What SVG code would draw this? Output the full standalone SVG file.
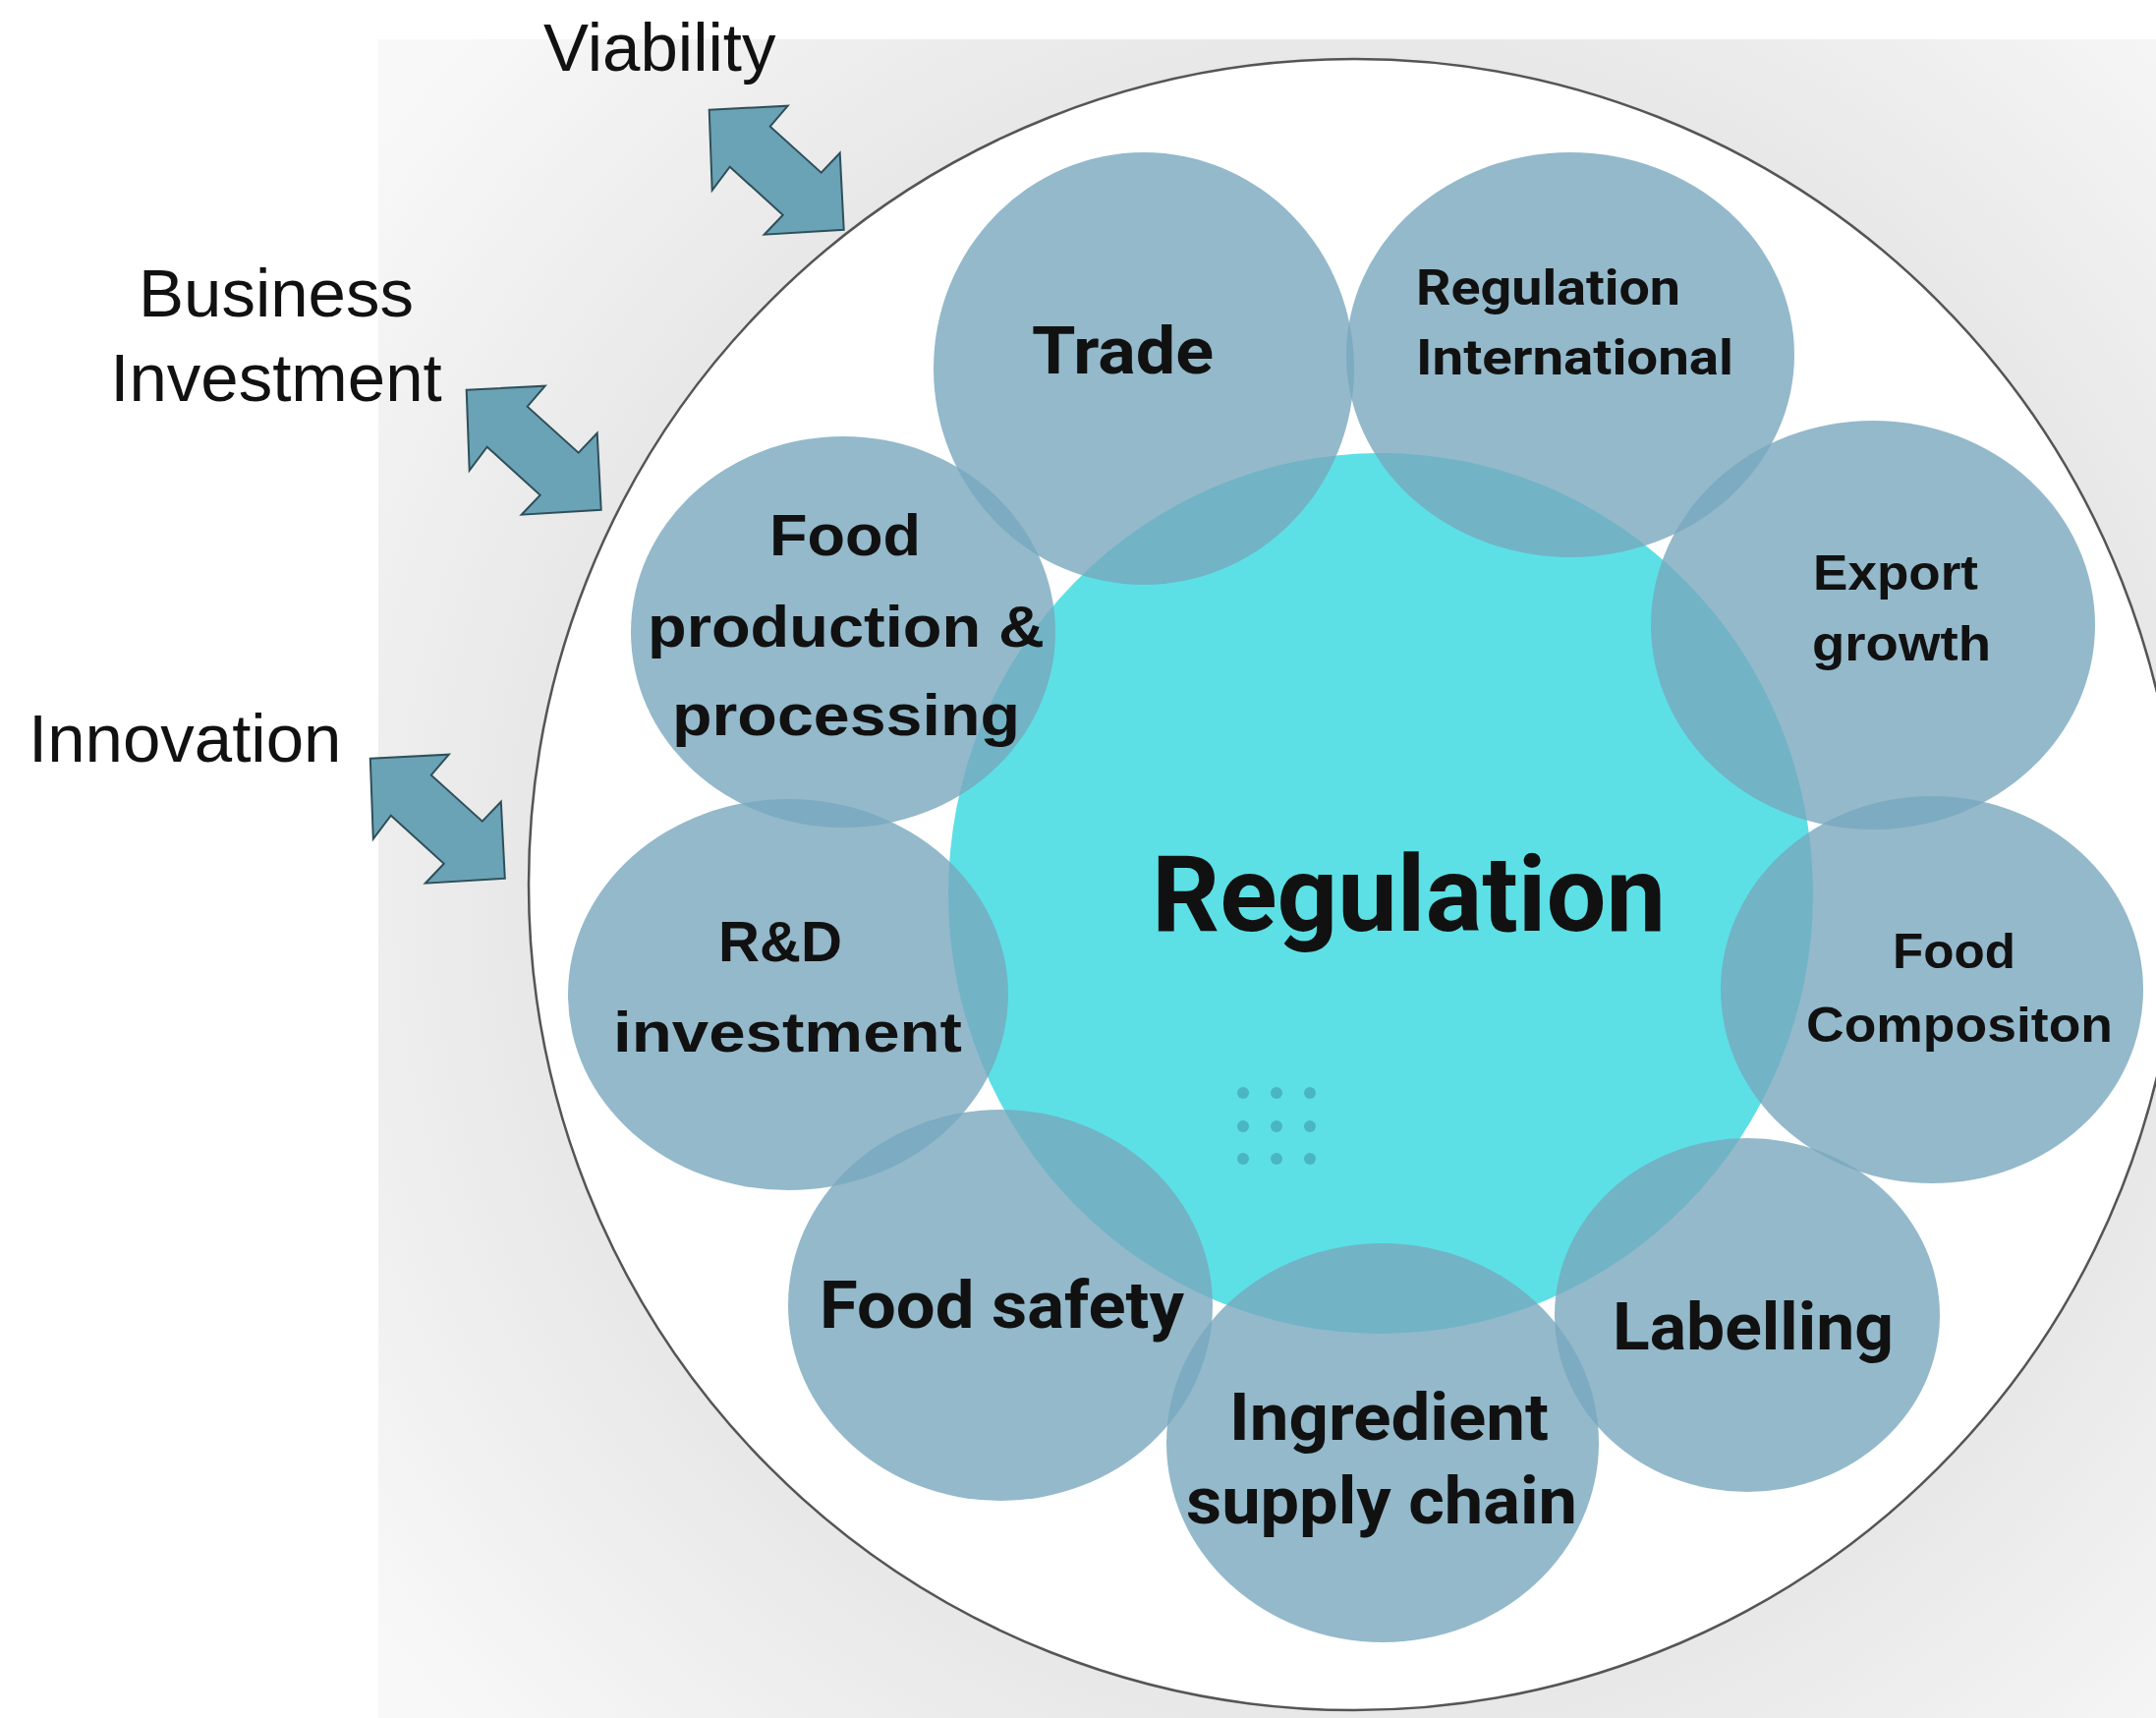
<svg xmlns="http://www.w3.org/2000/svg" xmlns:xlink="http://www.w3.org/1999/xlink" width="2194" height="1748" viewBox="0 0 2194 1748">
  <defs>
    <radialGradient id="bg" gradientUnits="userSpaceOnUse" cx="1378" cy="900" r="1250">
      <stop offset="0.62" stop-color="#e5e5e5"/>
      <stop offset="1" stop-color="#f8f8f8"/>
    </radialGradient>
    <path id="arrow" d="M0,0 L80,-4 L62,17 L114,64 L133,44 L137,122 L56,127 L75,107 L21,58 L3,82 Z"/>
    <style>
      .node { fill: #78a8be; fill-opacity: 0.8; }
      .hub { fill: #5ce0e5; }
      .lbl { font-family: Roboto, "Liberation Sans", sans-serif; font-weight: 700; fill: #111; }
      .wide { font-family: "Liberation Sans", Arial, sans-serif; font-weight: 700; fill: #111; }
      .side { font-family: "Liberation Sans", Arial, sans-serif; font-size: 69px; fill: #111; }
      .arr { fill: #6aa3b6; stroke: #2f4f5a; stroke-width: 2; stroke-linejoin: miter; }
      .dot { fill: #4ab5c3; }
    </style>
  </defs>

  <rect x="0" y="0" width="2194" height="1748" fill="#ffffff"/>
  <rect x="385" y="40" width="1809" height="1708" fill="url(#bg)"/>

  <g id="outer-circle">
    <circle cx="1378" cy="900" r="840" fill="#ffffff" stroke="#555" stroke-width="2.5"/>
  </g>

  <g id="regulation-hub">
    <ellipse class="hub" cx="1405" cy="909" rx="440" ry="448"/>
    <g id="dots">
      <circle class="dot" cx="1265" cy="1112" r="6"/>
      <circle class="dot" cx="1299" cy="1112" r="6"/>
      <circle class="dot" cx="1333" cy="1112" r="6"/>
      <circle class="dot" cx="1265" cy="1146" r="6"/>
      <circle class="dot" cx="1299" cy="1146" r="6"/>
      <circle class="dot" cx="1333" cy="1146" r="6"/>
      <circle class="dot" cx="1265" cy="1179" r="6"/>
      <circle class="dot" cx="1299" cy="1179" r="6"/>
      <circle class="dot" cx="1333" cy="1179" r="6"/>
    </g>
  </g>

  <g id="node-trade"><ellipse class="node" cx="1164" cy="375" rx="214" ry="220"/></g>
  <g id="node-regulation-international"><ellipse class="node" cx="1598" cy="361" rx="228" ry="206"/></g>
  <g id="node-export-growth"><ellipse class="node" cx="1906" cy="636" rx="226" ry="208"/></g>
  <g id="node-food-composition"><ellipse class="node" cx="1966" cy="1007" rx="215" ry="197"/></g>
  <g id="node-labelling"><ellipse class="node" cx="1778" cy="1338" rx="196" ry="180"/></g>
  <g id="node-ingredient"><ellipse class="node" cx="1407" cy="1468" rx="220" ry="203"/></g>
  <g id="node-food-safety"><ellipse class="node" cx="1018" cy="1328" rx="216" ry="199"/></g>
  <g id="node-rd"><ellipse class="node" cx="802" cy="1012" rx="224" ry="199"/></g>
  <g id="node-food-production"><ellipse class="node" cx="858" cy="643" rx="216" ry="199"/></g>

  <g id="labels">
    <text class="lbl" x="1172" y="947" font-size="108" textLength="523" lengthAdjust="spacingAndGlyphs">Regulation</text>
    <text class="lbl" x="1050" y="380" font-size="66" textLength="185" lengthAdjust="spacingAndGlyphs">Trade</text>
    <text class="lbl" x="1441" y="310" font-size="50" textLength="269" lengthAdjust="spacingAndGlyphs">Regulation</text>
    <text class="lbl" x="1441" y="381" font-size="50" textLength="323" lengthAdjust="spacingAndGlyphs">International</text>
    <text class="wide" x="1845" y="600" font-size="50" textLength="168" lengthAdjust="spacingAndGlyphs">Export</text>
    <text class="wide" x="1844" y="672" font-size="50" textLength="182" lengthAdjust="spacingAndGlyphs">growth</text>
    <text class="wide" x="1926" y="985" font-size="50" textLength="125" lengthAdjust="spacingAndGlyphs">Food</text>
    <text class="wide" x="1838" y="1060" font-size="50" textLength="312" lengthAdjust="spacingAndGlyphs">Compositon</text>
    <text class="lbl" x="1641" y="1373" font-size="66" textLength="286" lengthAdjust="spacingAndGlyphs">Labelling</text>
    <text class="lbl" x="1251" y="1465" font-size="66" textLength="325" lengthAdjust="spacingAndGlyphs">Ingredient</text>
    <text class="lbl" x="1207" y="1550" font-size="66" textLength="398" lengthAdjust="spacingAndGlyphs">supply chain</text>
    <text class="lbl" x="834" y="1351" font-size="66" textLength="371" lengthAdjust="spacingAndGlyphs">Food safety</text>
    <text class="wide" x="731" y="978" font-size="58" textLength="126" lengthAdjust="spacingAndGlyphs">R&amp;D</text>
    <text class="wide" x="624" y="1070" font-size="58" textLength="355" lengthAdjust="spacingAndGlyphs">investment</text>
    <text class="wide" x="783" y="565" font-size="60" textLength="154" lengthAdjust="spacingAndGlyphs">Food</text>
    <text class="wide" x="659" y="658" font-size="60" textLength="404" lengthAdjust="spacingAndGlyphs">production &amp;</text>
    <text class="wide" x="684" y="748" font-size="60" textLength="354" lengthAdjust="spacingAndGlyphs">processing</text>
  </g>

  <g id="connectors">
    <use xlink:href="#arrow" href="#arrow" class="arr" transform="translate(721.7,111.7)"/>
    <use xlink:href="#arrow" href="#arrow" class="arr" transform="translate(474.7,396.7)"/>
    <use xlink:href="#arrow" href="#arrow" class="arr" transform="translate(376.8,771.7)"/>
  </g>

  <g id="side-labels">
    <text class="side" x="553" y="72">Viability</text>
    <text class="side" x="281" y="322" text-anchor="middle">Business</text>
    <text class="side" x="281" y="408" text-anchor="middle">Investment</text>
    <text class="side" x="29" y="775">Innovation</text>
  </g>
</svg>
